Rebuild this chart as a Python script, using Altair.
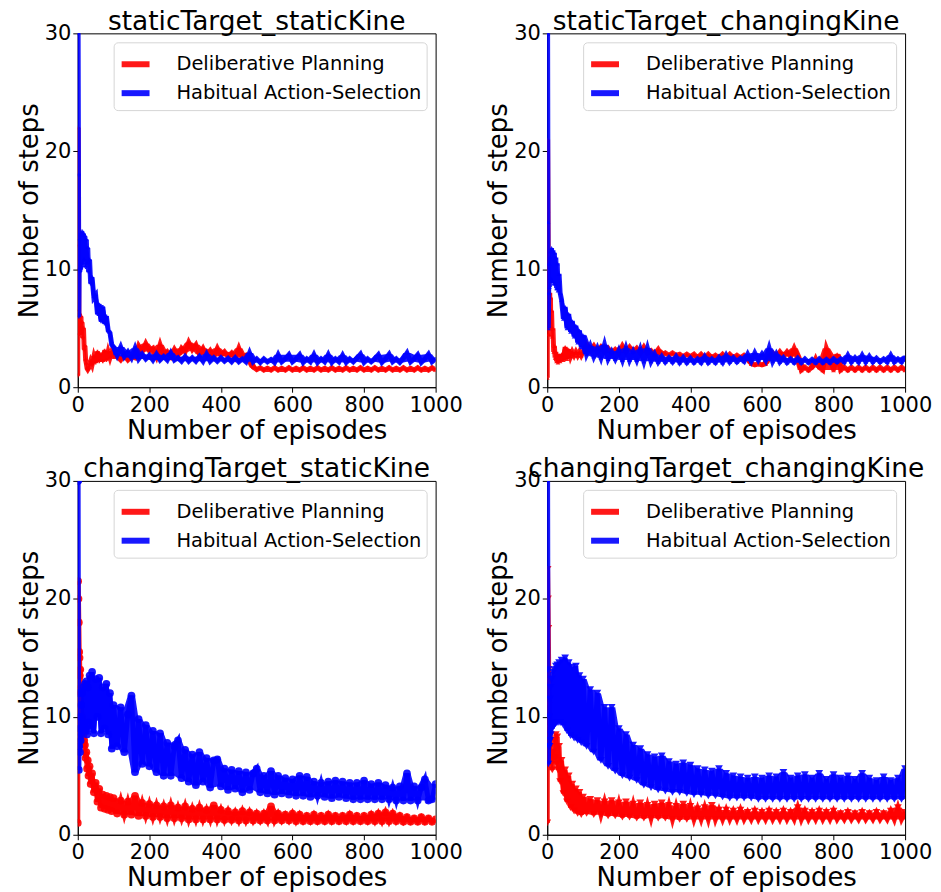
import altair as alt
import pandas as pd

EP_EARLY = [0, 1, 2, 3, 4, 5, 6, 7, 8, 9, 10, 12, 14, 16, 18, 20, 22, 24, 26, 28, 30,
            33, 36, 40, 45, 50, 55, 60, 65, 70, 75, 80, 85, 90, 95, 100]
EP_LATE = list(range(110, 1001, 10))
EPISODES = EP_EARLY + EP_LATE

SERIES = ["Deliberative Planning", "Habitual Action-Selection"]
COLORS = ["#ff0000", "#0000ff"]
TITLES = ["staticTarget_staticKine", "staticTarget_changingKine",
          "changingTarget_staticKine", "changingTarget_changingKine"]
SHAPES = ["cross", "triangle-up", "circle", "triangle-down"]
MSIZES = [16, 22, 60, 60]

# ---- staticTarget_staticKine ----
ss_dp_early = [1.0, 22, 12, 6.5, 4.5, 6.2, 4.8, 6.0, 5.0, 6.0, 4.6, 5.5, 4.2, 5.0, 3.2, 3.5, 2.3, 2.0,
               1.6, 1.5, 1.6, 1.9, 2.2, 1.9, 2.6, 2.1, 3.0, 2.2, 2.8, 2.2, 3.1, 2.3, 3.0, 2.5, 3.0, 2.6]
ss_dp_late = [2.6, 2.3, 2.7, 2.3, 2.6, 2.5, 3.5, 3.0, 3.7, 3.1,
              3.3, 2.6, 3.6, 2.7, 3.0, 2.6, 3.2, 2.7, 3.3, 3.0,
              3.8, 3.2, 3.6, 2.8, 3.3, 2.7, 3.1, 2.6, 3.3, 2.7,
              3.0, 2.6, 2.9, 2.5, 3.3, 2.5, 2.7, 2.3, 1.7, 1.5,
              1.65, 1.45, 1.6, 1.45, 1.65, 1.45, 1.6, 1.45, 1.65, 1.45,
              1.6, 1.45, 1.65, 1.45, 1.6, 1.45, 1.65, 1.45, 1.6, 1.45,
              1.65, 1.45, 1.6, 1.45, 1.65, 1.45, 1.6, 1.45, 1.65, 1.45,
              1.6, 1.45, 1.65, 1.45, 1.6, 1.45, 1.65, 1.45, 1.6, 1.45,
              1.65, 1.45, 1.6, 1.45, 1.65, 1.45, 1.6, 1.45, 1.65, 1.45]
ss_hab_early = [30, 30, 18, 6.0, 10.0, 12.5, 9.8, 12.8, 10.0, 13.0, 10.2, 13.2, 10.5, 13.0, 10.8, 12.8,
                10.2, 12.5, 10.5, 11.8, 9.8, 10.8, 8.8, 9.3, 7.6, 7.8, 6.2, 7.0, 5.6, 6.8, 5.4, 6.0,
                4.8, 4.6, 3.6, 3.4]
ss_hab_late = [2.7, 3.4, 2.6, 3.0, 2.5, 3.3, 2.4, 2.8, 2.4, 2.7,
               2.3, 2.8, 2.3, 2.6, 2.3, 2.9, 2.3, 2.5, 2.2, 2.6,
               2.2, 2.5, 2.2, 2.6, 2.2, 2.8, 2.2, 2.5, 2.2, 2.5,
               2.2, 2.45, 2.15, 2.5, 2.15, 2.4, 2.15, 2.9, 2.15, 2.4,
               2.1, 2.4, 2.15, 2.35, 2.1, 2.75, 2.15, 2.4, 2.75, 2.15,
               2.4, 2.75, 2.1, 2.4, 2.15, 2.75, 2.1, 2.4, 2.15, 2.75,
               2.1, 2.4, 2.15, 2.7, 2.1, 2.4, 2.15, 2.45, 2.8, 2.1,
               2.4, 2.15, 2.4, 2.75, 2.1, 2.4, 2.8, 2.15, 2.4, 2.1,
               2.45, 2.9, 2.15, 2.4, 2.75, 2.1, 2.4, 2.8, 2.15, 2.4]

# ---- staticTarget_changingKine ----
sc_dp_early = [0.8, 21, 15, 10, 4.5, 7.5, 5.0, 8.0, 5.5, 7.6, 5.0, 6.5, 4.3, 5.0, 3.0, 3.5, 2.5, 3.0,
               2.2, 2.8, 2.1, 2.7, 2.2, 2.8, 2.3, 3.4, 2.4, 3.2, 2.6, 3.0, 2.7, 3.0, 2.7, 3.0, 2.7, 3.0]
sc_dp_late = [3.6, 3.1, 3.5, 3.0, 3.4, 3.0, 3.3, 2.9, 3.2, 2.9,
              3.5, 3.0, 3.4, 3.0, 3.3, 2.9, 3.4, 2.9, 3.1, 2.8,
              3.2, 2.7, 2.9, 2.7, 2.9, 2.7, 2.8, 2.6, 2.8, 2.6,
              2.8, 2.5, 2.8, 2.5, 2.8, 2.5, 2.7, 2.5, 2.8, 2.5,
              2.8, 2.5, 2.7, 2.5, 2.7, 2.5, 2.0, 1.9, 2.0, 1.9,
              2.0, 2.6, 2.9, 2.6, 3.0, 2.6, 3.0, 2.6, 3.3, 2.6,
              1.45, 1.7, 1.45, 1.7, 2.4, 1.7, 1.45, 3.3, 2.5, 1.45,
              2.8, 1.45, 1.7, 1.45, 1.7, 1.45, 1.7, 1.45, 1.7, 1.45,
              1.7, 1.45, 1.7, 1.45, 1.7, 1.45, 1.7, 1.45, 1.7, 1.45]
sc_hab_early = [30, 30, 14, 5.0, 8.0, 10.5, 8.5, 11.0, 9.0, 11.5, 9.2, 11.8, 9.0, 11.6, 8.8, 11.4,
                8.8, 11.0, 8.4, 10.5, 8.2, 9.6, 8.0, 7.4, 5.8, 6.8, 5.0, 6.2, 4.7, 5.6, 4.3, 5.2,
                3.8, 4.8, 3.4, 4.4]
sc_hab_late = [2.8, 3.5, 2.6, 3.3, 2.5, 3.6, 2.4, 3.0, 2.4, 3.1,
               2.3, 3.3, 2.3, 3.0, 2.3, 3.2, 2.2, 3.3, 2.2, 2.8,
               2.15, 2.6, 2.15, 2.5, 2.15, 2.6, 2.1, 2.5, 2.1, 2.45,
               2.1, 2.4, 2.1, 2.6, 2.1, 2.4, 2.1, 2.5, 2.1, 2.7,
               2.15, 2.5, 2.15, 2.45, 2.2, 2.8, 2.2, 2.9, 2.3, 2.8,
               2.3, 3.3, 2.2, 2.8, 2.15, 2.5, 2.1, 2.4, 2.1, 2.45,
               2.1, 2.4, 2.1, 2.35, 2.1, 2.4, 2.1, 2.35, 2.1, 2.4,
               2.15, 2.4, 2.15, 2.7, 2.15, 2.5, 2.15, 2.7, 2.15, 2.6,
               2.15, 2.45, 2.15, 2.4, 2.15, 2.7, 2.15, 2.4, 2.15, 2.6]

# ---- changingTarget_staticKine ----
cs_dp_early = [1.0, 21.5, 20, 18, 15.5, 15, 13.5, 14, 12, 12.5, 11, 10, 9.5, 8.5, 8.0, 7.6, 6.5, 7.0,
               5.6, 6.3, 5.0, 5.8, 4.3, 5.2, 3.6, 4.4, 2.8, 3.9, 2.3, 3.4, 2.2, 3.3, 2.1, 3.2, 2.0, 3.1]
cs_dp_late = [1.8, 2.9, 1.7, 2.8, 1.7, 3.3, 1.6, 2.7, 1.6, 2.6,
              1.5, 2.5, 1.5, 2.4, 1.4, 2.5, 1.4, 2.3, 1.4, 2.4,
              1.3, 2.2, 1.3, 2.3, 1.3, 2.1, 1.3, 2.5, 1.3, 2.1,
              1.25, 2.0, 1.25, 1.9, 1.2, 2.0, 1.2, 1.9, 1.2, 1.8,
              1.2, 1.8, 1.2, 2.4, 1.2, 1.8, 1.2, 1.7, 1.2, 1.8,
              1.15, 1.7, 1.15, 1.6, 1.15, 1.7, 1.15, 1.6, 1.15, 1.7,
              1.15, 1.6, 1.15, 1.6, 1.15, 1.7, 1.15, 1.6, 1.15, 1.6,
              1.15, 1.7, 1.15, 1.8, 1.15, 1.9, 1.15, 1.8, 1.15, 1.6,
              1.1, 1.5, 1.1, 1.4, 1.1, 1.5, 1.1, 1.4, 1.1, 1.3]
cs_hab_early = [30, 30, 12, 5.5, 7.5, 9.0, 7.0, 10.0, 8.0, 11.0, 8.5, 12.0, 9.0, 12.5, 9.5, 12.8,
                9.0, 13.0, 8.5, 12.5, 9.5, 13.5, 9.0, 13.8, 8.6, 13.2, 10.0, 13.3, 8.6, 12.5, 9.0, 12.8,
                8.5, 12.0, 7.3, 11.0]
cs_hab_late = [7.5, 10.8, 7.0, 10.2, 11.8, 5.3, 9.8, 6.0, 9.3, 5.8,
               8.8, 5.3, 8.6, 5.0, 7.8, 5.0, 7.5, 8.0, 4.8, 7.2,
               4.5, 6.8, 4.2, 7.0, 4.5, 6.5, 4.0, 6.3, 6.4, 4.1,
               5.6, 3.8, 5.5, 3.9, 5.4, 3.6, 5.3, 3.8, 5.2, 5.6,
               3.6, 5.0, 3.5, 5.4, 3.4, 5.0, 3.5, 4.8, 3.4, 4.7,
               3.3, 5.0, 3.3, 4.9, 3.2, 4.5, 3.3, 4.4, 3.2, 4.5,
               3.1, 4.6, 3.2, 4.5, 3.1, 4.4, 3.0, 4.4, 3.0, 4.6,
               3.0, 4.3, 3.0, 4.4, 3.0, 4.2, 3.0, 4.0, 2.9, 4.1,
               2.9, 5.2, 2.9, 4.1, 2.9, 4.0, 4.7, 2.9, 3.0, 4.3]

# ---- changingTarget_changingKine ----
cc_dp_early = [1.0, 22.5, 20, 17.5, 14, 13, 11, 10, 9, 8, 7.5, 6.0, 5.5, 7.0, 6.5, 8.0, 6.5, 8.5,
               6.0, 8.3, 5.5, 7.5, 4.5, 6.3, 3.5, 5.5, 2.8, 5.0, 2.3, 4.3, 2.0, 3.9, 1.8, 3.6, 1.7, 3.2]
cc_dp_late = [1.8, 3.0, 1.7, 2.9, 1.7, 2.8, 1.6, 2.9, 1.6, 2.7,
              1.5, 2.8, 1.5, 2.6, 1.4, 2.7, 1.4, 2.5, 1.4, 2.6,
              1.4, 2.7, 1.4, 2.5, 1.3, 2.4, 1.3, 2.6, 1.3, 2.4,
              1.3, 2.2, 1.3, 2.3, 1.3, 2.5, 1.3, 2.1, 1.3, 2.1,
              1.3, 2.0, 1.3, 2.1, 1.3, 1.9, 1.3, 2.0, 1.3, 1.9,
              1.3, 2.0, 1.3, 1.9, 1.3, 2.0, 1.3, 1.9, 1.3, 2.3,
              1.3, 2.0, 1.3, 1.9, 1.3, 2.0, 1.3, 1.9, 1.3, 2.0,
              1.3, 1.8, 1.3, 1.9, 1.3, 1.8, 1.3, 1.9, 1.3, 1.8,
              1.3, 1.9, 1.3, 1.8, 1.3, 2.0, 1.3, 2.3, 1.3, 1.9]
cc_hab_early = [30, 30, 14, 6.0, 7.5, 10.0, 7.5, 11.5, 8.0, 12.5, 8.5, 13.2, 9.0, 13.8, 9.2, 14.0,
                9.4, 14.3, 9.5, 14.4, 9.5, 14.6, 9.5, 14.8, 9.3, 15.0, 8.8, 14.6, 8.4, 14.2, 8.2, 14.3,
                8.0, 13.5, 7.8, 13.2]
cc_hab_late = [7.5, 12.3, 7.0, 12.0, 6.3, 10.8, 5.8, 10.8, 5.4, 9.0,
               5.0, 8.5, 4.8, 7.6, 4.6, 7.3, 4.2, 6.8, 4.0, 6.6,
               3.8, 6.7, 3.7, 6.2, 3.6, 6.0, 3.6, 6.1, 3.5, 5.9,
               3.4, 5.6, 3.4, 5.5, 3.3, 5.4, 3.3, 5.6, 3.2, 5.2,
               3.1, 5.0, 3.1, 4.9, 3.1, 4.8, 3.1, 4.9, 3.0, 4.8,
               3.0, 5.0, 3.0, 4.9, 3.0, 5.3, 3.0, 4.8, 3.0, 5.0,
               3.0, 5.1, 3.0, 4.8, 3.0, 5.2, 3.0, 4.7, 3.0, 5.1,
               3.0, 4.8, 3.0, 5.0, 3.0, 4.7, 3.0, 5.2, 3.0, 4.8,
               3.0, 4.6, 3.0, 4.9, 3.0, 4.6, 3.0, 4.8, 3.0, 5.6]

PANEL_DATA = [
    (ss_dp_early + ss_dp_late, ss_hab_early + ss_hab_late),
    (sc_dp_early + sc_dp_late, sc_hab_early + sc_hab_late),
    (cs_dp_early + cs_dp_late, cs_hab_early + cs_hab_late),
    (cc_dp_early + cc_dp_late, cc_hab_early + cc_hab_late),
]

FONT = "DejaVu Sans"
W, H = 359, 355


def panel(i):
    dp, hab = PANEL_DATA[i]
    df = pd.DataFrame({
        "episode": EPISODES + EPISODES,
        "steps": dp + hab,
        "series": [SERIES[0]] * len(EPISODES) + [SERIES[1]] * len(EPISODES),
    })
    base = alt.Chart(df)
    xscale = alt.Scale(domain=[0, 1000], nice=False)
    yscale = alt.Scale(domain=[0, 30], nice=False)
    x = alt.X("episode:Q", scale=xscale,
              axis=alt.Axis(values=[0, 200, 400, 600, 800, 1000], title="Number of episodes",
                            format="d", labelFlush=False, labelOverlap=False))
    y = alt.Y("steps:Q", scale=yscale,
              axis=alt.Axis(values=[0, 10, 20, 30], title="Number of steps", labelOverlap=False))
    color = alt.Color("series:N", scale=alt.Scale(domain=SERIES, range=COLORS),
                      legend=alt.Legend(title=None, orient="top-right", offset=9,
                                        symbolType="stroke", symbolStrokeWidth=6, symbolSize=784,
                                        labelFontSize=19.5, labelFont=FONT, labelColor="black",
                                        labelLimit=400, labelOffset=24, fillColor="white",
                                        strokeColor="#d5d5d5", cornerRadius=4, padding=5,
                                        rowPadding=0))
    layers = []
    for s in SERIES:
        sub = base.transform_filter(alt.datum.series == s)
        band = (
            sub.transform_window(lo="min(steps)", hi="max(steps)", frame=[-1, 1],
                                 sort=[alt.SortField("episode")])
            .mark_area(opacity=0.9, clip=True)
            .encode(x=alt.X("episode:Q", scale=xscale),
                    y=alt.Y("lo:Q", scale=yscale), y2="hi:Q", color=color)
        )
        line = (
            sub.mark_line(strokeWidth=5, opacity=0.9, clip=True,
                          point=alt.OverlayMarkDef(shape=SHAPES[i], size=MSIZES[i], filled=True,
                                                   opacity=0.9, clip=True))
            .encode(x=x, y=y, color=color, order="episode:Q")
        )
        layers += [band, line]
    return alt.layer(*layers).properties(
        width=W, height=H,
        title=alt.Title(TITLES[i], fontSize=26.5, font=FONT, fontWeight="normal", offset=-13,
                        frame="group"),
    )


top = alt.hconcat(panel(0), panel(1), spacing=21).resolve_scale(color="independent")
bottom = alt.hconcat(panel(2), panel(3), spacing=21).resolve_scale(color="independent")
chart = (
    alt.vconcat(top, bottom, spacing=12)
    .resolve_scale(color="independent")
    .properties(padding={"left": 7, "top": -1, "right": 0, "bottom": 0})
    .configure(font=FONT)
    .configure_axis(labelFont=FONT, titleFont=FONT, labelFontSize=21, titleFontSize=26,
                    titleFontWeight="normal", labelColor="black", titleColor="black",
                    domainColor="black", tickColor="black", tickSize=5, grid=False,
                    labelPadding=2, titlePadding=2)
    .configure_view(stroke="black", strokeWidth=1)
)

chart.save("out.html", embed_options={"renderer": "svg", "actions": False})
